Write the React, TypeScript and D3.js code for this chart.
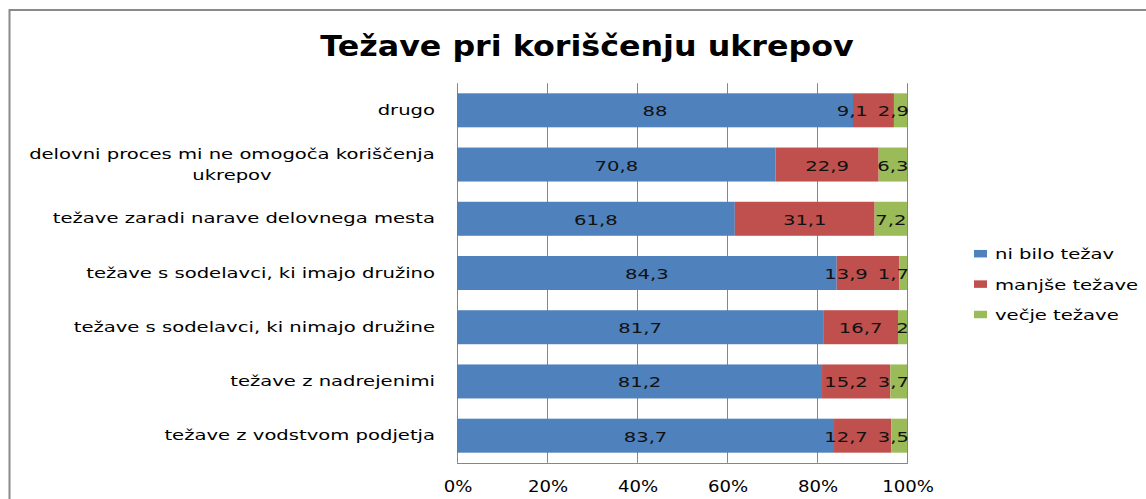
import React, { useEffect, useRef } from "react";
import * as d3 from "d3";

const title = "Težave pri koriščenju ukrepov";
const categories = [
  "drugo",
  "delovni proces mi ne omogoča koriščenja ukrepov",
  "težave zaradi narave delovnega mesta",
  "težave s sodelavci, ki imajo družino",
  "težave s sodelavci, ki nimajo družine",
  "težave z nadrejenimi",
  "težave z vodstvom podjetja",
];
const seriesNames = ["ni bilo težav", "manjše težave", "večje težave"];
const niBiloTezav = [88, 70.8, 61.8, 84.3, 81.7, 81.2, 83.7];
const manjseTezave = [9.1, 22.9, 31.1, 13.9, 16.7, 15.2, 12.7];
const vecjeTezave = [2.9, 6.3, 7.2, 1.7, 2, 3.7, 3.5];
const tickValues = [0, 0.2, 0.4, 0.6, 0.8, 1];
const colors = ["#4F81BD", "#C0504D", "#9BBB59"];

const FONT = "'DejaVu Sans', sans-serif";
const SX = 1.4;

export default function App() {
  const ref = useRef<SVGSVGElement | null>(null);

  useEffect(() => {
    document.body.style.margin = "0";
    const svg = d3.select(ref.current as SVGSVGElement);
    svg.selectAll("*").remove();

    const plotL = 457, plotR = 907, plotT = 83.2, plotB = 462.8;
    const x = d3.scaleLinear().domain([0, 1]).range([plotL, plotR]);
    const y = d3
      .scaleBand<string>()
      .domain(categories)
      .range([plotT, plotB])
      .paddingInner(0.373)
      .paddingOuter(0.1865);

    const addText = (
      g: any,
      str: string,
      tx: number,
      ty: number,
      o: { size: number; sx: number; anchor?: string; weight?: string; fill?: string }
    ) => {
      const t = g
        .append("text")
        .attr("transform", `translate(${tx},${ty}) scale(${o.sx},1)`)
        .attr("text-anchor", o.anchor || "start")
        .attr("font-family", FONT)
        .attr("font-size", o.size)
        .attr("font-weight", o.weight || "normal")
        .attr("fill", o.fill || "#000")
        .text(str);
      return t;
    };
    const measure = (str: string, size: number, sx: number, weight = "normal") => {
      const t = svg
        .append("text")
        .attr("font-family", FONT)
        .attr("font-size", size)
        .attr("font-weight", weight)
        .text(str);
      const w = (t.node() as SVGTextElement).getComputedTextLength() * sx;
      t.remove();
      return w;
    };

    // outer border
    svg
      .append("rect")
      .attr("x", 9.5)
      .attr("y", 10)
      .attr("width", 1160)
      .attr("height", 520)
      .attr("fill", "#fff")
      .attr("stroke", "#8a8a8a")
      .attr("stroke-width", 2);

    // title
    addText(svg, title, 587, 56, { size: 29, sx: 1.095, anchor: "middle", weight: "bold" });

    // gridlines
    const grid = svg.append("g");
    tickValues.forEach((t) => {
      const gx = Math.round(x(t)) + 0.5;
      grid
        .append("line")
        .attr("x1", gx)
        .attr("x2", gx)
        .attr("y1", plotT)
        .attr("y2", plotB)
        .attr("stroke", "#868686")
        .attr("stroke-width", 1);
    });
    grid
      .append("line")
      .attr("x1", plotL)
      .attr("x2", plotR + 1)
      .attr("y1", Math.round(plotB) + 0.5)
      .attr("y2", Math.round(plotB) + 0.5)
      .attr("stroke", "#868686");

    // tick labels
    const fmt = d3.format(".0%");
    tickValues.forEach((t) => {
      addText(svg, fmt(t), x(t) + 1, 492, { size: 16, sx: 1.13, anchor: "middle" });
    });

    // stacked data
    const table = categories.map((c, i) => ({
      cat: c,
      s0: niBiloTezav[i],
      s1: manjseTezave[i],
      s2: vecjeTezave[i],
    }));
    const keys = ["s0", "s1", "s2"];
    const stacked = d3.stack<any>().keys(keys).offset(d3.stackOffsetExpand)(table);
    const raw = [niBiloTezav, manjseTezave, vecjeTezave];

    const bars = svg.append("g");
    stacked.forEach((layer, si) => {
      layer.forEach((d: any) => {
        bars
          .append("rect")
          .attr("x", x(d[0]))
          .attr("width", x(d[1]) - x(d[0]))
          .attr("y", y(d.data.cat)!)
          .attr("height", y.bandwidth())
          .attr("fill", colors[si]);
      });
    });

    // value labels with simple collision handling (right to left)
    const vals = svg.append("g");
    categories.forEach((c, ci) => {
      const cy = y(c)! + y.bandwidth() / 2 + 6;
      let limit = plotR + 2;
      const items = stacked.map((layer, si) => {
        const d: any = layer[ci];
        const str = String(raw[si][ci]).replace(".", ",");
        return { str, center: (x(d[0]) + x(d[1])) / 2, w: measure(str, 14, SX) };
      });
      for (let si = items.length - 1; si >= 0; si--) {
        const it = items[si];
        let cx = it.center;
        if (cx + it.w / 2 > limit) cx = limit - it.w / 2;
        it.center = cx;
        limit = cx - it.w / 2 - 10;
      }
      items.forEach((it) => {
        addText(vals, it.str, it.center, cy, { size: 14, sx: SX, anchor: "middle", fill: "#111" });
      });
    });

    // category labels (wrapped)
    const labelRight = 435;
    const maxW = 420;
    const lineH = 21;
    const cats = svg.append("g");
    categories.forEach((c) => {
      const words = c.split(" ");
      const lines: string[] = [];
      let cur = "";
      words.forEach((w) => {
        const test = cur ? cur + " " + w : w;
        if (measure(test, 14, SX) > maxW && cur) {
          lines.push(cur);
          cur = w;
        } else cur = test;
      });
      if (cur) lines.push(cur);
      const widths = lines.map((l) => measure(l, 14, SX));
      const blockW = Math.max(...widths);
      const cy = y(c)! + y.bandwidth() / 2;
      const startY = cy - ((lines.length - 1) * lineH) / 2 + 4.5;
      lines.forEach((l, li) => {
        if (lines.length === 1) {
          addText(cats, l, labelRight, startY, { size: 14, sx: SX, anchor: "end" });
        } else {
          addText(cats, l, labelRight - blockW / 2, startY + li * lineH, {
            size: 14,
            sx: SX,
            anchor: "middle",
          });
        }
      });
    });

    // legend
    const leg = svg.append("g");
    seriesNames.forEach((n, i) => {
      const cy = 253.7 + i * 30.4;
      leg
        .append("rect")
        .attr("x", 974)
        .attr("y", cy - 3.75)
        .attr("width", 13)
        .attr("height", 7.5)
        .attr("fill", colors[i]);
      addText(leg, n, 995, cy + 5.5, { size: 14, sx: SX, anchor: "start" });
    });
  }, []);

  return (
    <svg
      ref={ref}
      width={1146}
      height={499}
      style={{ position: "absolute", left: 0, top: 0, background: "#fff" }}
    />
  );
}
